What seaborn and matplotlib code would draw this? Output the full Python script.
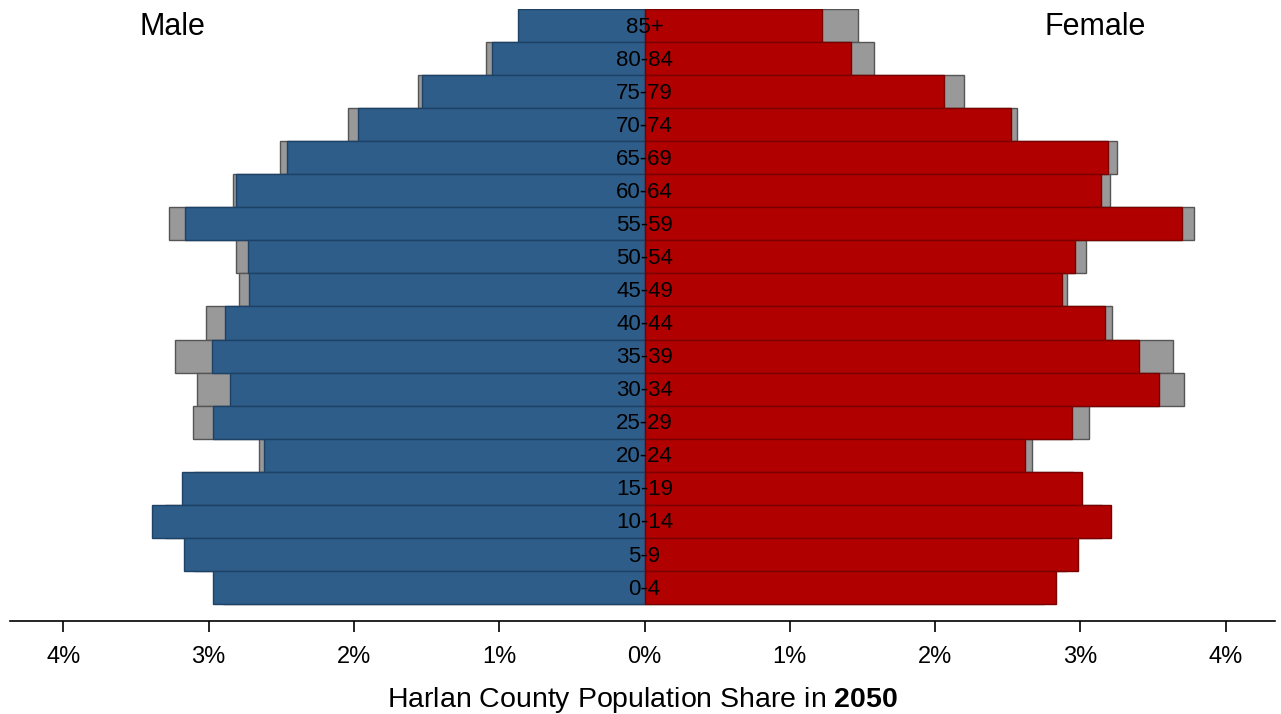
import pandas as pd
import numpy as np
import seaborn as sns
import matplotlib.pyplot as plt

ages = ['0-4', '5-9', '10-14', '15-19', '20-24', '25-29', '30-34', '35-39', '40-44',
        '45-49', '50-54', '55-59', '60-64', '65-69', '70-74', '75-79', '80-84', '85+']
# 2050 shares (%), and the gray comparison bars behind them
male = [2.97, 3.17, 3.39, 3.18, 2.62, 2.97, 2.85, 2.98, 2.89,
        2.72, 2.73, 3.16, 2.81, 2.46, 1.97, 1.53, 1.05, 0.87]
male_gray = [2.90, 3.10, 3.30, 3.10, 2.65, 3.11, 3.08, 3.23, 3.02,
             2.79, 2.81, 3.27, 2.83, 2.51, 2.04, 1.56, 1.09, 0.80]
female = [2.83, 2.98, 3.21, 3.01, 2.62, 2.94, 3.54, 3.40, 3.17,
          2.87, 2.96, 3.70, 3.14, 3.19, 2.52, 2.06, 1.42, 1.22]
female_gray = [2.75, 2.90, 3.15, 2.95, 2.67, 3.06, 3.71, 3.64, 3.22,
               2.91, 3.04, 3.78, 3.20, 3.25, 2.56, 2.20, 1.58, 1.47]
ticks = [-4, -3, -2, -1, 0, 1, 2, 3, 4]
tick_labels = ['4%', '3%', '2%', '1%', '0%', '1%', '2%', '3%', '4%']

df = pd.DataFrame({'age': ages, 'male': male, 'male_gray': male_gray,
                   'female': female, 'female_gray': female_gray})
df['male'] = -df['male']
df['male_gray'] = -df['male_gray']
order = ages[::-1]

sns.set_style('white')
plt.rcParams['font.family'] = ['Liberation Sans', 'DejaVu Sans']
plt.rcParams['mathtext.fontset'] = 'custom'
plt.rcParams['mathtext.rm'] = 'Liberation Sans'
plt.rcParams['mathtext.bf'] = 'Liberation Sans:bold'
plt.rcParams['text.color'] = 'black'
plt.rcParams['axes.labelcolor'] = 'black'
plt.rcParams['xtick.color'] = 'black'

fig = plt.figure(figsize=(12.81, 7.14), dpi=100)
ax = fig.add_axes([10 / 1281, 93 / 714, 1265 / 1281, 612 / 714])

kw = dict(y='age', order=order, orient='h', width=1, saturation=1,
          errorbar=None, ax=ax)
sns.barplot(data=df, x='male_gray', color='#999999', edgecolor='#555555', linewidth=1, **kw)
sns.barplot(data=df, x='female_gray', color='#999999', edgecolor='#555555', linewidth=1, **kw)
sns.barplot(data=df, x='male', color='#2e5d89', edgecolor='#1e4266', linewidth=1, **kw)
sns.barplot(data=df, x='female', color='#b00000', edgecolor='#7a0000', linewidth=1, **kw)

for i, a in enumerate(order):
    ax.text(0, i + 0.05, a, ha='center', va='center', fontsize=16)

ax.text(-3.25, 0.03, 'Male', ha='center', va='center', fontsize=22)
ax.text(3.10, 0.03, 'Female', ha='center', va='center', fontsize=22)

ax.set_xlim(-4.367, 4.339)
ax.set_ylim(len(order) - 0.5 + 0.515, -0.5)
ax.set_yticks([])
ax.set_ylabel('')
ax.set_xticks(ticks)
ax.set_xticklabels(tick_labels, fontsize=17)
ax.tick_params(axis='x', bottom=True, direction='out', length=8, width=1.2,
               color='black', pad=10)
ax.set_xlabel(r'Harlan County Population Share in $\mathbf{2050}$', fontsize=20.5, labelpad=12)
for s in ['top', 'left', 'right']:
    ax.spines[s].set_visible(False)
ax.spines['bottom'].set_linewidth(1.2)
ax.spines['bottom'].set_color('black')

fig.savefig('out.png', dpi=100)
